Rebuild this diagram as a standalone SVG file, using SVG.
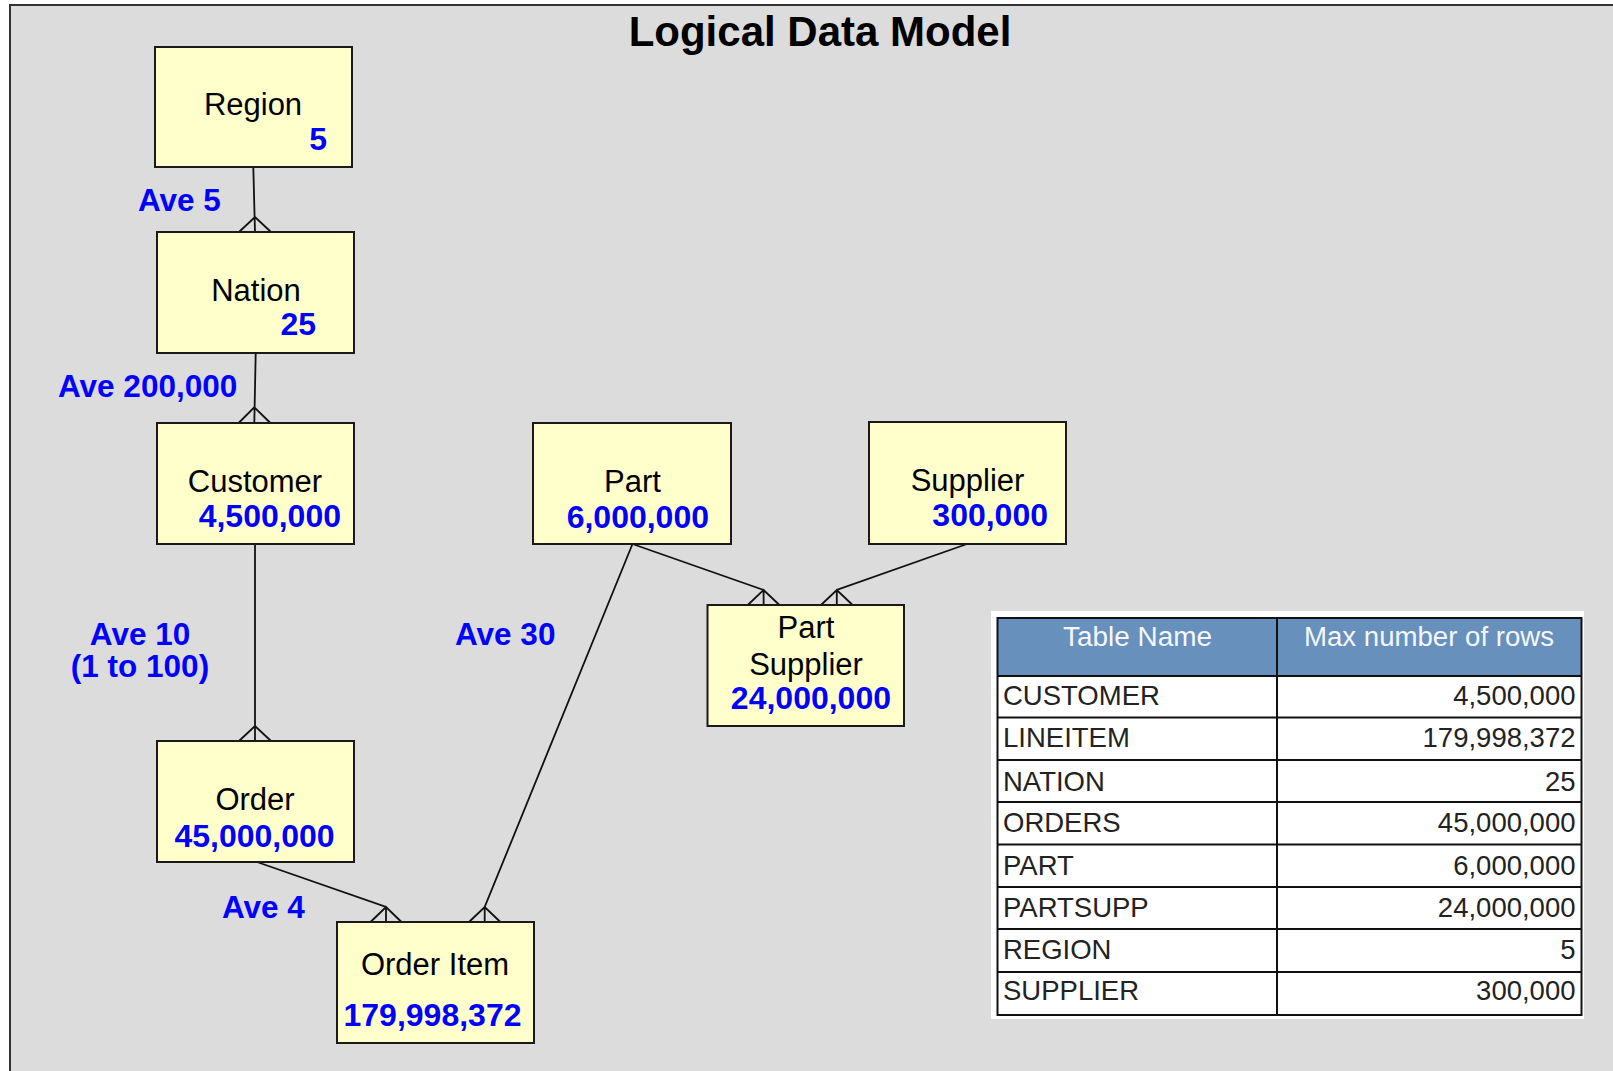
<svg xmlns="http://www.w3.org/2000/svg" width="1613" height="1071" viewBox="0 0 1613 1071">
  <style>
    .frame { fill: #dcdcdc; stroke: #333333; stroke-width: 2; }
    .entity rect { fill: #ffffcc; stroke: #1a1a1a; stroke-width: 2; }
    .name { font-family: "Liberation Sans", Arial, sans-serif; font-size: 31px; fill: #000000; }
    .count { font-family: "Liberation Sans", Arial, sans-serif; font-size: 32px; font-weight: bold; fill: #0000ff; }
    .card { font-family: "Liberation Sans", Arial, sans-serif; font-size: 31.5px; font-weight: bold; fill: #0000ff; }
    .title { font-family: "Liberation Sans", Arial, sans-serif; font-size: 42px; font-weight: bold; fill: #000000; }
    .rel { fill: none; stroke: #111111; stroke-width: 1.8; stroke-linejoin: miter; }
    .th { font-family: "Liberation Sans", Arial, sans-serif; font-size: 27px; fill: #f4f7fb; }
    .td { font-family: "Liberation Sans", Arial, sans-serif; font-size: 27.5px; fill: #222222; }
    .grid { stroke: #111111; stroke-width: 2; fill: none; }
  </style>

  <!-- page background and frame -->
  <rect x="0" y="0" width="1613" height="1071" fill="#ffffff"/>
  <rect class="frame" x="10" y="5" width="1610" height="1080"/>

  <text class="title" x="820" y="46" text-anchor="middle">Logical Data Model</text>

  <!-- relationships: line from parent to child, crow's foot at the child -->
  <g id="connectors">
    <path class="rel" d="M253.3,167 L255,232 M239,232 L255,217 L271,232"/>
    <path class="rel" d="M255.7,353 L254.3,423 M238.6,423 L254.3,407.3 L270.4,423"/>
    <path class="rel" d="M255,544 L255,741 M239,741 L255,726 L271,741"/>
    <path class="rel" d="M257,862 L386,907 L386,922 M370.5,922 L386,907 L401.5,922"/>
    <path class="rel" d="M632.5,544 L484.7,907 L484.7,922 M469,922 L484.7,907 L500.4,922"/>
    <path class="rel" d="M632.5,544 L763.6,590 L763.6,605 M747.8,605 L763.6,590 L779.4,605"/>
    <path class="rel" d="M967,544 L836.8,590 L836.8,605 M821,605 L836.8,590 L852.6,605"/>
  </g>

  <!-- cardinality labels -->
  <g id="cardinalities">
    <text class="card" x="138" y="211">Ave 5</text>
    <text class="card" x="58" y="397">Ave 200,000</text>
    <text class="card" x="140" y="645" text-anchor="middle">Ave 10</text>
    <text class="card" x="140" y="677" text-anchor="middle">(1 to 100)</text>
    <text class="card" x="455" y="645">Ave 30</text>
    <text class="card" x="222" y="918">Ave 4</text>
  </g>

  <!-- entities -->
  <g id="region" class="entity">
    <rect x="155" y="47" width="197" height="120"/>
    <text class="name" x="253" y="115" text-anchor="middle">Region</text>
    <text class="count" x="327" y="150" text-anchor="end">5</text>
  </g>
  <g id="nation" class="entity">
    <rect x="157" y="232" width="197" height="121"/>
    <text class="name" x="256" y="301" text-anchor="middle">Nation</text>
    <text class="count" x="316" y="335" text-anchor="end">25</text>
  </g>
  <g id="customer" class="entity">
    <rect x="157" y="423" width="197" height="121"/>
    <text class="name" x="255" y="492" text-anchor="middle">Customer</text>
    <text class="count" x="341" y="527" text-anchor="end">4,500,000</text>
  </g>
  <g id="order" class="entity">
    <rect x="157" y="741" width="197" height="121"/>
    <text class="name" x="255" y="810" text-anchor="middle">Order</text>
    <text class="count" x="254.5" y="847" text-anchor="middle">45,000,000</text>
  </g>
  <g id="order-item" class="entity">
    <rect x="337" y="922" width="197" height="121"/>
    <text class="name" x="435" y="975" text-anchor="middle">Order Item</text>
    <text class="count" x="432.5" y="1026" text-anchor="middle">179,998,372</text>
  </g>
  <g id="part" class="entity">
    <rect x="533" y="423" width="198" height="121"/>
    <text class="name" x="632.5" y="492" text-anchor="middle">Part</text>
    <text class="count" x="709" y="528" text-anchor="end">6,000,000</text>
  </g>
  <g id="supplier" class="entity">
    <rect x="869" y="422" width="197" height="122"/>
    <text class="name" x="967.5" y="491" text-anchor="middle">Supplier</text>
    <text class="count" x="1048" y="526" text-anchor="end">300,000</text>
  </g>
  <g id="part-supplier" class="entity">
    <rect x="707.5" y="605" width="196.5" height="121"/>
    <text class="name" x="806" y="638" text-anchor="middle">Part</text>
    <text class="name" x="806" y="675" text-anchor="middle">Supplier</text>
    <text class="count" x="891" y="709" text-anchor="end">24,000,000</text>
  </g>

  <!-- row count table -->
  <g id="row-count-table">
    <rect x="991" y="611" width="593" height="408" fill="#ffffff"/>
    <rect x="997.5" y="618" width="584" height="58" fill="#6890bd"/>
    <rect class="grid" x="997.5" y="618" width="584" height="397"/>
    <path class="grid" d="M1277,618 V1015 M997.5,676 H1581.5 M997.5,717.5 H1581.5 M997.5,760 H1581.5 M997.5,802 H1581.5 M997.5,844.5 H1581.5 M997.5,887 H1581.5 M997.5,929 H1581.5 M997.5,972 H1581.5"/>
    <text class="th" x="1137.5" y="646" text-anchor="middle" textLength="149" lengthAdjust="spacingAndGlyphs">Table Name</text>
    <text class="th" x="1429" y="646" text-anchor="middle" textLength="250" lengthAdjust="spacingAndGlyphs">Max number of rows</text>
    <text class="td" x="1003" y="705">CUSTOMER</text>
    <text class="td" x="1575.5" y="705" text-anchor="end">4,500,000</text>
    <text class="td" x="1003" y="747">LINEITEM</text>
    <text class="td" x="1575.5" y="747" text-anchor="end">179,998,372</text>
    <text class="td" x="1003" y="790.5">NATION</text>
    <text class="td" x="1575.5" y="790.5" text-anchor="end">25</text>
    <text class="td" x="1003" y="832">ORDERS</text>
    <text class="td" x="1575.5" y="832" text-anchor="end">45,000,000</text>
    <text class="td" x="1003" y="875">PART</text>
    <text class="td" x="1575.5" y="875" text-anchor="end">6,000,000</text>
    <text class="td" x="1003" y="917">PARTSUPP</text>
    <text class="td" x="1575.5" y="917" text-anchor="end">24,000,000</text>
    <text class="td" x="1003" y="959">REGION</text>
    <text class="td" x="1575.5" y="959" text-anchor="end">5</text>
    <text class="td" x="1003" y="1000">SUPPLIER</text>
    <text class="td" x="1575.5" y="1000" text-anchor="end">300,000</text>
  </g>
</svg>
